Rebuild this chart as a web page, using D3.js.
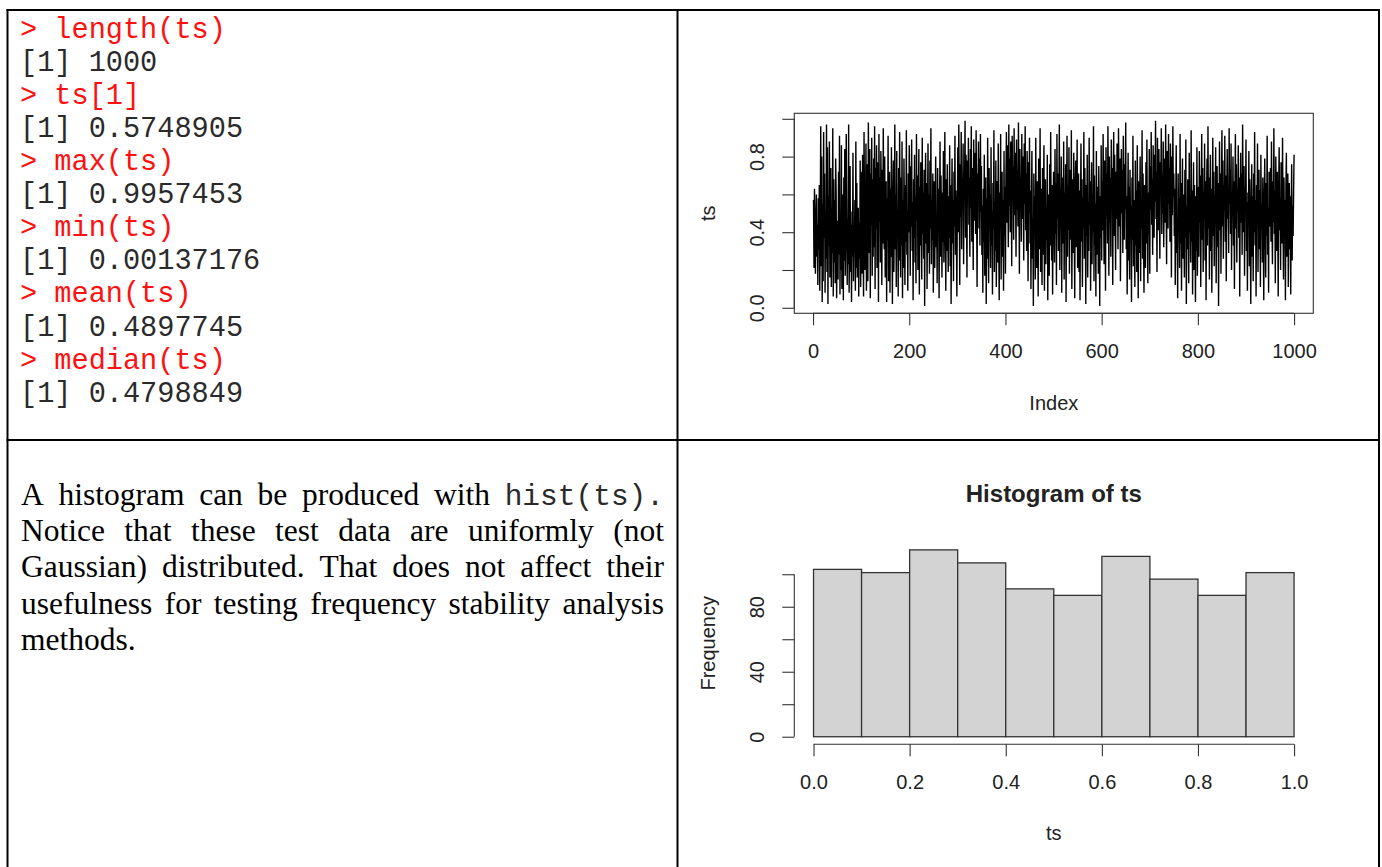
<!DOCTYPE html>
<html>
<head>
<meta charset="utf-8">
<title>ts: summary, plot and histogram</title>
<script src="https://cdn.jsdelivr.net/npm/d3@7"></script>
<style>
  body { margin: 0; background: #fff; overflow: hidden; }
  .mono { font-family: "Liberation Mono", "Courier New", monospace; }
  .serif { font-family: "Liberation Serif", "Times New Roman", serif; }
  .rplot text { font-family: "Liberation Sans", Arial, sans-serif; fill: #222; }
</style>
</head>
<body>
<script>
// ---- data ----
var commands = ["length(ts)", "ts[1]", "max(ts)", "min(ts)", "mean(ts)", "median(ts)"];
var results  = ["1000", "0.5748905", "0.9957453", "0.00137176", "0.4897745", "0.4798849"];

var paraLines = [
  ["A", "histogram", "can", "be", "produced", "with", "hist(ts)."],
  ["Notice", "that", "these", "test", "data", "are", "uniformly", "(not"],
  ["Gaussian)", "distributed.", "That", "does", "not", "affect", "their"],
  ["usefulness", "for", "testing", "frequency", "stability", "analysis"],
  ["methods."]
];

// the 1000 values of ts, read (roughly) off the line plot
var tsValues = [
  .57,.21,.63,.35,.18,.49,.60,.27,.44,.12,.58,.31,.65,.09,.47,.96,.22,.80,.03,.55,.14,.93,.37,.71,.08,.51,.26,.97,.19,.85,.02,.59,.33,.88,.16,.42,.74,.11,.53,.29,.95,.06,.68,.24,.57,.13,.79,.62,.05,.34,
  .46,.15,.72,.28,.91,.07,.43,.20,.86,.10,.38,.60,.04,.69,.25,.84,.17,.41,.92,.58,.12,.47,.23,.97,.08,.36,.75,.19,.44,.03,.51,.27,.82,.14,.40,.30,.57,.09,.88,.21,.66,.16,.35,.53,.06,.45,.26,.78,.11,.39,
  .72,.18,.81,.45,.06,.93,.52,.20,.41,.87,.09,.35,.76,.14,.98,.63,.29,.84,.05,.71,.44,.90,.17,.68,.27,.79,.32,.96,.10,.74,.42,.86,.21,.57,.77,.03,.92,.46,.69,.24,.83,.58,.12,.73,.34,.95,.49,.31,.80,.16,
  .22,.67,.03,.58,.36,.91,.14,.49,.72,.08,.63,.27,.85,.41,.02,.55,.78,.19,.46,.97,.31,.60,.11,.83,.38,.52,.06,.74,.25,.93,.44,.16,.69,.33,.88,.05,.57,.21,.79,.47,.12,.65,.35,.94,.28,.51,.09,.71,.40,.86,
  .62,.17,.75,.43,.89,.30,.56,.04,.68,.37,.81,.24,.59,.13,.92,.46,.70,.20,.53,.84,.07,.64,.33,.77,.48,.15,.90,.39,.61,.26,.73,.01,.55,.82,.34,.66,.10,.50,.87,.29,.60,.18,.78,.42,.95,.23,.57,.36,.71,.08,
  .44,.67,.21,.58,.80,.32,.49,.13,.74,.39,.63,.05,.52,.88,.27,.70,.45,.16,.61,.35,.83,.24,.55,.93,.41,.09,.68,.30,.76,.47,.19,.59,.37,.86,.22,.65,.02,.50,.79,.34,.57,.14,.72,.43,.91,.28,.62,.38,.06,.54,
  .85,.40,.97,.59,.12,.76,.48,.93,.31,.68,.55,.87,.23,.72,.64,.99,.37,.81,.50,.16,.78,.61,.90,.44,.69,.27,.84,.53,.96,.35,.74,.58,.20,.89,.46,.66,.82,.39,.94,.57,.11,.71,.63,.88,.42,.79,.33,.92,.51,.75,
  .28,.54,.08,.63,.35,.81,.17,.47,.69,.02,.58,.26,.90,.39,.13,.74,.45,.60,.21,.85,.33,.51,.07,.66,.42,.94,.19,.56,.30,.78,.11,.48,.67,.24,.87,.36,.04,.61,.43,.92,.15,.53,.72,.27,.57,.09,.83,.38,.64,.18,
  .70,.93,.45,.86,.61,.32,.97,.54,.79,.40,.88,.66,.22,.91,.58,.75,.36,.95,.49,.82,.63,.27,.89,.52,.73,.43,.98,.60,.18,.84,.57,.69,.35,.92,.47,.80,.64,.25,.87,.55,.96,.41,.71,.30,.83,.59,.14,.77,.50,.90,
  .34,.62,.10,.55,.83,.26,.47,.01,.71,.38,.59,.15,.90,.43,.21,.67,.52,.06,.79,.31,.48,.95,.19,.63,.40,.12,.74,.28,.57,.86,.09,.45,.68,.23,.53,.36,.81,.04,.60,.42,.17,.76,.33,.93,.50,.25,.65,.07,.46,.72,
  .58,.24,.84,.39,.66,.12,.92,.47,.71,.30,.55,.97,.20,.63,.43,.80,.08,.69,.52,.34,.88,.15,.61,.45,.76,.03,.57,.91,.27,.65,.41,.85,.18,.59,.73,.36,.94,.10,.50,.68,.29,.82,.46,.05,.62,.78,.32,.54,.89,.21,
  .46,.71,.19,.62,.04,.53,.87,.35,.68,.11,.58,.42,.93,.26,.74,.49,.02,.65,.38,.81,.16,.56,.30,.90,.44,.67,.09,.52,.77,.23,.60,.40,.96,.14,.70,.33,.55,.06,.83,.47,.28,.64,.18,.75,.51,.01,.59,.37,.86,.25,
  .67,.41,.92,.56,.23,.78,.63,.09,.85,.49,.71,.34,.96,.58,.17,.80,.45,.69,.27,.89,.53,.74,.12,.62,.93,.38,.81,.55,.20,.72,.47,.87,.60,.31,.95,.66,.43,.79,.14,.57,.84,.50,.73,.29,.91,.64,.36,.76,.52,.98,
  .31,.59,.07,.48,.82,.25,.64,.15,.73,.40,.54,.03,.69,.36,.91,.22,.57,.44,.11,.78,.33,.62,.19,.86,.47,.05,.67,.29,.53,.80,.14,.58,.42,.94,.26,.71,.37,.08,.65,.50,.21,.77,.34,.89,.45,.13,.61,.39,.84,.18,
  .75,.52,.93,.44,.68,.28,.86,.60,.37,.81,.56,.99,.47,.72,.19,.90,.63,.41,.84,.54,.26,.77,.66,.95,.39,.70,.50,.88,.32,.61,.79,.45,.97,.58,.23,.83,.67,.42,.92,.55,.74,.35,.87,.62,.16,.80,.49,.96,.59,.71,
  .38,.63,.12,.55,.86,.29,.47,.05,.71,.41,.58,.21,.92,.34,.66,.09,.51,.79,.26,.60,.44,.16,.73,.37,.89,.02,.54,.31,.68,.46,.13,.82,.40,.57,.24,.94,.35,.62,.07,.48,.77,.20,.65,.43,.03,.59,.30,.85,.17,.53,
  .64,.27,.83,.45,.70,.11,.58,.92,.36,.74,.19,.61,.48,.87,.25,.67,.04,.55,.79,.33,.96,.42,.69,.15,.57,.81,.30,.63,.08,.52,.90,.38,.72,.22,.60,.46,.85,.13,.56,.75,.32,.66,.01,.50,.88,.41,.71,.18,.59,.94,
  .43,.78,.26,.65,.52,.91,.35,.70,.14,.58,.84,.47,.62,.29,.95,.55,.73,.39,.87,.20,.61,.49,.80,.33,.67,.10,.57,.92,.42,.76,.24,.63,.51,.86,.37,.69,.06,.54,.82,.45,.71,.28,.97,.60,.40,.75,.17,.64,.53,.89,
  .30,.56,.09,.61,.44,.83,.22,.68,.37,.02,.52,.76,.27,.59,.14,.71,.40,.93,.33,.57,.06,.65,.45,.87,.19,.50,.73,.31,.62,.11,.81,.42,.55,.24,.69,.36,.04,.58,.79,.47,.16,.66,.38,.91,.28,.53,.08,.72,.43,.60,
  .74,.35,.88,.51,.23,.67,.45,.95,.39,.62,.13,.80,.56,.30,.72,.48,.06,.64,.85,.41,.58,.20,.77,.53,.34,.90,.46,.15,.69,.37,.57,.04,.63,.82,.27,.50,.71,.11,.44,.66,.31,.59,.07,.48,.76,.25,.54,.38,.61,.81
];

var tsXTicks = [0, 200, 400, 600, 800, 1000];
var tsYTicks = [0, 0.2, 0.4, 0.6, 0.8, 1.0];
var tsYLabels = ["0.0", "", "0.4", "", "0.8", ""];

// histogram of ts (breaks 0, 0.1, ..., 1.0)
var histBreaks = [0, 0.1, 0.2, 0.3, 0.4, 0.5, 0.6, 0.7, 0.8, 0.9, 1.0];
var histCounts = [103, 101, 115, 107, 91, 87, 111, 97, 87, 101];
var histXTicks = [0, 0.2, 0.4, 0.6, 0.8, 1.0];
var histYTicks = [0, 20, 40, 60, 80, 100];
var histYLabels = ["0", "", "40", "", "80", ""];

// ---- page ----
var W = 1382, H = 867;
var svg = d3.select("body").append("svg")
    .attr("width", W).attr("height", H);

// table grid
var grid = svg.append("g").attr("stroke", "#000").attr("stroke-width", 2);
grid.append("line").attr("x1", 7.5).attr("x2", 7.5).attr("y1", 9).attr("y2", H);
grid.append("line").attr("x1", 1379).attr("x2", 1379).attr("y1", 9).attr("y2", H);
grid.append("line").attr("x1", 677.5).attr("x2", 677.5).attr("y1", 9).attr("y2", H);
grid.append("line").attr("x1", 6.5).attr("x2", 1380).attr("y1", 10).attr("y2", 10);
grid.append("line").attr("x1", 6.5).attr("x2", 1380).attr("y1", 440).attr("y2", 440);

// R console output (top left)
var con = svg.append("g").attr("class", "mono").style("font-size", "28.6px");
commands.forEach(function(c, i) {
  con.append("text").attr("x", 20).attr("y", 37.6 + (2 * i) * 33.1)
    .attr("fill", "#ff1010").style("white-space", "pre").text("> " + c);
  con.append("text").attr("x", 20).attr("y", 37.6 + (2 * i + 1) * 33.1)
    .attr("fill", "#2a2a2a").style("white-space", "pre").text("[1] " + results[i]);
});

// justified paragraph (bottom left)
var paraLeft = 21, paraRight = 664, paraBase = 505, paraStep = 36.2;
var para = svg.append("g").attr("fill", "#000");
paraLines.forEach(function(words, li) {
  var nodes = words.map(function(w) {
    var isCode = w.indexOf("hist(") === 0;
    return para.append("text")
      .attr("class", isCode ? "mono" : "serif")
      .style("font-size", isCode ? "29.5px" : "31.5px")
      .attr("fill", isCode ? "#2a2a2a" : "#000")
      .attr("y", paraBase + li * paraStep)
      .text(w);
  });
  var widths = nodes.map(function(n) { return n.node().getComputedTextLength(); });
  var last = li === paraLines.length - 1;
  var gap = last ? 8 : (paraRight - paraLeft - d3.sum(widths)) / (words.length - 1);
  var x = paraLeft;
  nodes.forEach(function(n, i) { n.attr("x", x); x += widths[i] + gap; });
});

// R draws the axis line only from the first to the last tick
function trimDomain(g, scale, ticks, vertical) {
  var a = scale(ticks[0]), b = scale(ticks[ticks.length - 1]);
  g.select(".domain").attr("d", vertical ? "M0," + a + "V" + b : "M" + a + ",0H" + b);
}

function styleAxis(g) {
  g.selectAll(".domain, .tick line").attr("stroke", "#333").attr("stroke-width", 1.1);
  g.selectAll(".tick text").style("font-size", "20px").attr("fill", "#222");
}

function rotateLeftLabels(g, dx) {
  g.selectAll(".tick text")
    .attr("x", null).attr("dy", "0.36em")
    .attr("text-anchor", "middle")
    .attr("transform", "translate(" + dx + ",0) rotate(-90)");
}

// ---- line plot of ts (top right) ----
var p1 = { l: 794.3, r: 1313.3, t: 113.3, b: 313.3 };
var n = tsValues.length;
var ext = d3.extent(tsValues);
var tsX = d3.scaleLinear()
    .domain([1 - 0.04 * (n - 1), n + 0.04 * (n - 1)])
    .range([p1.l, p1.r]);
var tsY = d3.scaleLinear()
    .domain([ext[0] - 0.04 * (ext[1] - ext[0]), ext[1] + 0.04 * (ext[1] - ext[0])])
    .range([p1.b, p1.t]);

var g1 = svg.append("g").attr("class", "rplot");

g1.append("path")
  .datum(tsValues)
  .attr("fill", "none")
  .attr("stroke", "#000")
  .attr("stroke-width", 1.4)
  .attr("d", d3.line()
    .x(function(d, i) { return tsX(i + 1); })
    .y(function(d) { return tsY(d); }));

g1.append("rect")
  .attr("x", p1.l).attr("y", p1.t)
  .attr("width", p1.r - p1.l).attr("height", p1.b - p1.t)
  .attr("fill", "none").attr("stroke", "#333").attr("stroke-width", 1.1);

var ax1 = g1.append("g").attr("transform", "translate(0," + p1.b + ")")
  .call(d3.axisBottom(tsX).tickValues(tsXTicks).tickSize(12).tickSizeOuter(0)
    .tickPadding(19).tickFormat(d3.format("d")));
trimDomain(ax1, tsX, tsXTicks, false);
styleAxis(ax1);

var ay1 = g1.append("g").attr("transform", "translate(" + p1.l + ",0)")
  .call(d3.axisLeft(tsY).tickValues(tsYTicks).tickSize(12).tickSizeOuter(0)
    .tickFormat(function(d, i) { return tsYLabels[i]; }));
trimDomain(ay1, tsY, tsYTicks, true);
styleAxis(ay1);
rotateLeftLabels(ay1, -37.3);

g1.append("text")
  .attr("x", (p1.l + p1.r) / 2).attr("y", 410)
  .attr("text-anchor", "middle").style("font-size", "20px").text("Index");
g1.append("text")
  .attr("transform", "translate(708," + (p1.t + p1.b) / 2 + ") rotate(-90)")
  .attr("dy", "0.36em").attr("text-anchor", "middle").style("font-size", "20px").text("ts");

// ---- histogram of ts (bottom right) ----
var p2 = { l: 794.3, r: 1313.3, t: 542.4, b: 744.2 };
var hx = d3.scaleLinear().domain([-0.04, 1.04]).range([p2.l, p2.r]);
var cmax = d3.max(histCounts);
var hy = d3.scaleLinear().domain([-0.04 * cmax, 1.04 * cmax]).range([p2.b, p2.t]);

var g2 = svg.append("g").attr("class", "rplot");

g2.selectAll("rect.bar")
  .data(histCounts)
  .enter().append("rect")
  .attr("class", "bar")
  .attr("x", function(d, i) { return hx(histBreaks[i]); })
  .attr("width", function(d, i) { return hx(histBreaks[i + 1]) - hx(histBreaks[i]); })
  .attr("y", function(d) { return hy(d); })
  .attr("height", function(d) { return hy(0) - hy(d); })
  .attr("fill", "#d3d3d3")
  .attr("stroke", "#333")
  .attr("stroke-width", 1.3);

var ax2 = g2.append("g").attr("transform", "translate(0," + p2.b + ")")
  .call(d3.axisBottom(hx).tickValues(histXTicks).tickSize(12).tickSizeOuter(0)
    .tickPadding(19).tickFormat(d3.format(".1f")));
trimDomain(ax2, hx, histXTicks, false);
styleAxis(ax2);

var ay2 = g2.append("g").attr("transform", "translate(" + p2.l + ",0)")
  .call(d3.axisLeft(hy).tickValues(histYTicks).tickSize(12).tickSizeOuter(0)
    .tickFormat(function(d, i) { return histYLabels[i]; }));
trimDomain(ay2, hy, histYTicks, true);
styleAxis(ay2);
rotateLeftLabels(ay2, -37.3);

g2.append("text")
  .attr("x", (p2.l + p2.r) / 2).attr("y", 501.5)
  .attr("text-anchor", "middle").style("font-size", "24px").style("font-weight", "bold")
  .attr("fill", "#000").text("Histogram of ts");
g2.append("text")
  .attr("x", (p2.l + p2.r) / 2).attr("y", 840)
  .attr("text-anchor", "middle").style("font-size", "20px").text("ts");
g2.append("text")
  .attr("transform", "translate(708," + (p2.t + p2.b) / 2 + ") rotate(-90)")
  .attr("dy", "0.36em").attr("text-anchor", "middle").style("font-size", "20px").text("Frequency");
</script>
</body>
</html>
